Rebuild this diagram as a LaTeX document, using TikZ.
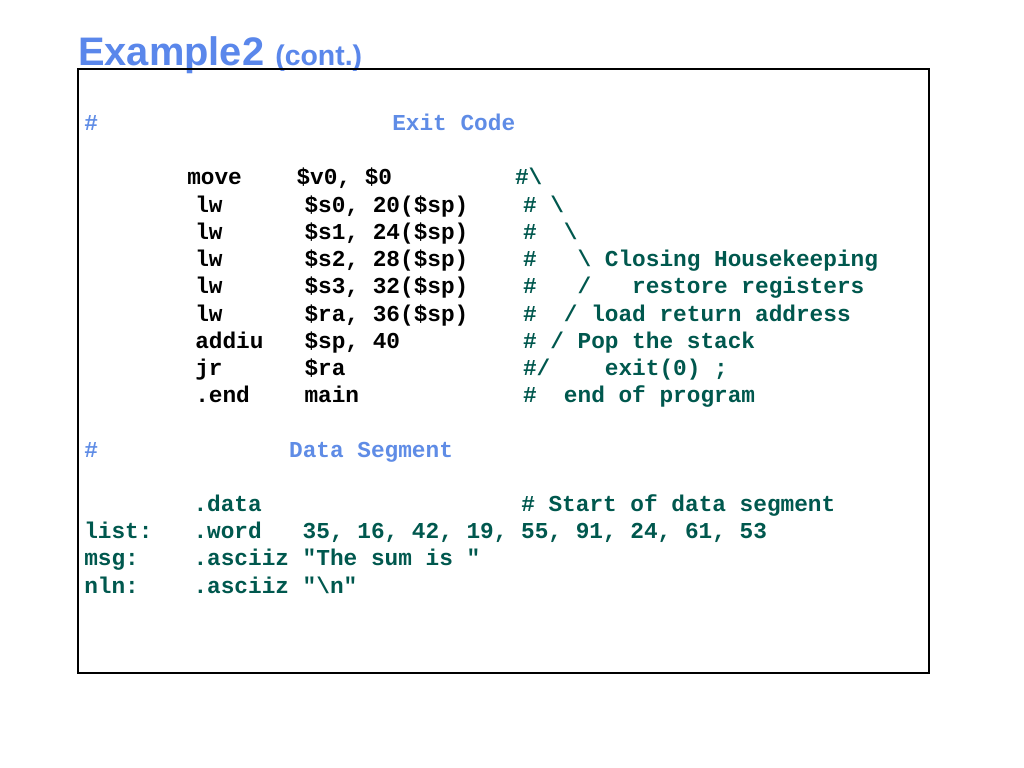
\documentclass[tikz,border=0pt]{standalone}
\usepackage{fontspec}
\setsansfont{Liberation Sans}
\setmonofont{Liberation Mono}[WordSpace={1,0,0}]
\definecolor{titleblue}{RGB}{90,135,235}
\definecolor{hdrblue}{RGB}{95,140,230}
\definecolor{cmtteal}{RGB}{0,88,78}

\begin{document}
\begin{tikzpicture}[x=0.703125pt, y=-0.703125pt,
  every node/.style={inner sep=0pt, anchor=base west},
  code/.style={font=\ttfamily\bfseries\fontsize{16}{19}\selectfont},
  hdr/.style={code, text=hdrblue},
  cmt/.style={code, text=cmtteal}]
\fill[white] (0,0) rectangle (1024,768);
\useasboundingbox (0,0) rectangle (1024,768);

\node (title) [text=titleblue, font=\sffamily\bfseries\fontsize{28}{32}\selectfont] at (78,66)
  {Example2 {\fontsize{20}{24}\selectfont(cont.)}};
\draw[line width=1pt] (78,69) rectangle (929,673);

\node (exithash) [hdr] at (84,130.6) {\#};
\node (exit) [hdr] at (392,130.6) {Exit Code};

\node (move) [code] at (187,185) {move~~~~\$v0, \$0~~~~~~~~~{\color{cmtteal}\#\textbackslash}};
\node (lws0) [code] at (195,212.2) {lw~~~~~~\$s0, 20(\$sp)~~~~{\color{cmtteal}\#~\textbackslash}};
\node (lws1) [code] at (195,239.4) {lw~~~~~~\$s1, 24(\$sp)~~~~{\color{cmtteal}\#~~\textbackslash}};
\node (lws2) [code] at (195,266.6) {lw~~~~~~\$s2, 28(\$sp)~~~~{\color{cmtteal}\#~~~\textbackslash~Closing Housekeeping}};
\node (lws3) [code] at (195,293.8) {lw~~~~~~\$s3, 32(\$sp)~~~~{\color{cmtteal}\#~~~/~~~restore registers}};
\node (lwra) [code] at (195,321) {lw~~~~~~\$ra, 36(\$sp)~~~~{\color{cmtteal}\#~~/ load return address}};
\node (addiu) [code] at (195,348.2) {addiu~~~\$sp, 40~~~~~~~~~{\color{cmtteal}\#~/ Pop the stack}};
\node (jr) [code] at (195,375.4) {jr~~~~~~\$ra~~~~~~~~~~~~~{\color{cmtteal}\#/~~~~exit(0) ;}};
\node (end) [code] at (195,402.6) {.end~~~~main~~~~~~~~~~~~{\color{cmtteal}\#~~end of program}};

\node (datahdr) [hdr] at (84,457) {\#~~~~~~~~~~~~~~Data Segment};

\node (data) [cmt] at (84,511.4) {~~~~~~~~.data~~~~~~~~~~~~~~~~~~~\# Start of data segment};
\node (list) [cmt] at (84,538.6) {list:~~~.word~~~35, 16, 42, 19, 55, 91, 24, 61, 53};
\node (msg) [cmt] at (84,565.8) {msg:~~~~.asciiz "The sum is~"};
\node (nln) [cmt] at (84,593) {nln:~~~~.asciiz "\textbackslash{}n"};
\end{tikzpicture}
\end{document}
